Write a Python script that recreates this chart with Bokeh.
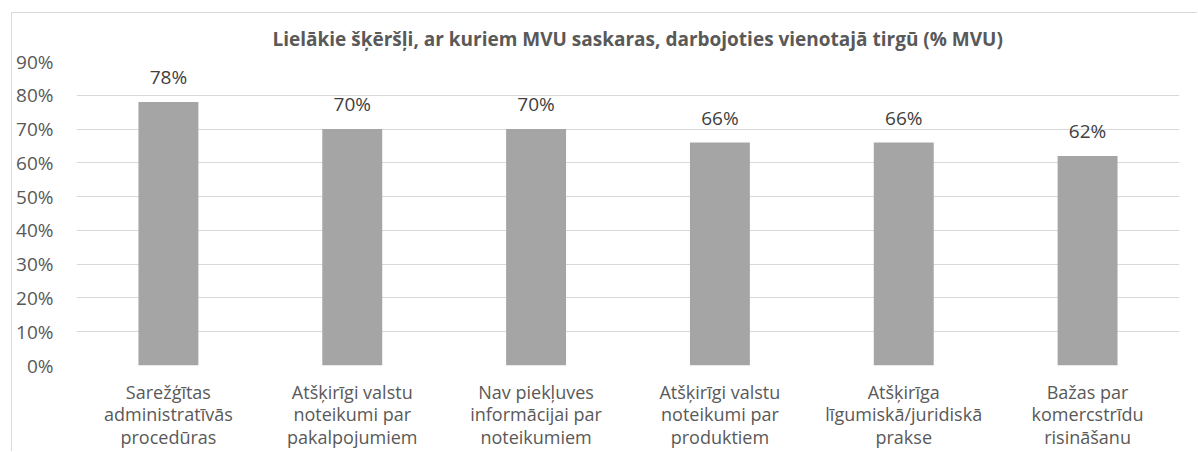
from bokeh.plotting import figure
from bokeh.models import (ColumnDataSource, Range1d, FactorRange, FixedTicker,
                          NumeralTickFormatter, LabelSet, Title)
from bokeh.core.properties import value
from bokeh.embed import file_html
from bokeh.resources import INLINE

title_text = "Lielākie šķēršļi, ar kuriem MVU saskaras, darbojoties vienotajā tirgū (% MVU)"
categories = [
    "Sarežģītas\nadministratīvās\nprocedūras",
    "Atšķirīgi valstu\nnoteikumi par\npakalpojumiem",
    "Nav piekļuves\ninformācijai par\nnoteikumiem",
    "Atšķirīgi valstu\nnoteikumi par\nproduktiem",
    "Atšķirīga\nlīgumiskā/juridiskā\nprakse",
    "Bažas par\nkomercstrīdu\nrisināšanu",
]
values = [0.78, 0.70, 0.70, 0.66, 0.66, 0.62]
value_labels = ["78%", "70%", "70%", "66%", "66%", "62%"]
y_ticks = [0.0, 0.1, 0.2, 0.3, 0.4, 0.5, 0.6, 0.7, 0.8, 0.9]

FONT = "Open Sans"
TXT = "#595959"

p = figure(width=1186, height=439, output_backend="svg", toolbar_location=None,
           x_range=FactorRange(factors=categories, range_padding=0),
           y_range=Range1d(0, 0.9),
           min_border_left=64, min_border_right=19, min_border_top=47, min_border_bottom=85)
p.margin = (12, 0, 0, 11)
p.styles = {"border-top": "1px solid #D9D9D9", "border-left": "1px solid #D9D9D9"}
p.outline_line_color = None
p.background_fill_color = "white"
p.border_fill_color = "white"

p.add_layout(Title(text=title_text, align="left", offset=196, standoff=20,
                   text_font=FONT, text_font_size="19px", text_font_style="bold",
                   text_color=TXT), "above")

src = ColumnDataSource(dict(cat=categories, val=values, lab=value_labels))
p.vbar(x="cat", top="val", width=0.326, source=src, fill_color="#A5A5A5", line_color=None)

p.add_layout(LabelSet(x="cat", y="val", text="lab", source=src, y_offset=25,
                      text_align="center", text_baseline="middle",
                      text_font=value(FONT), text_font_size="19px", text_color="#404040"))

p.xaxis.axis_line_color = None
p.xaxis.major_tick_line_color = None
p.xaxis.minor_tick_line_color = None
p.xaxis.major_tick_out = 0
p.xaxis.major_tick_in = 0
p.xaxis.major_label_standoff = 14
p.xaxis.major_label_text_font = FONT
p.xaxis.major_label_text_font_size = "18px"
p.xaxis.major_label_text_color = TXT
p.xaxis.major_label_text_line_height = 0.95

p.xgrid.grid_line_color = None
p.ygrid.grid_line_color = "#D9D9D9"
p.ygrid.grid_line_width = 1
p.yaxis.ticker = FixedTicker(ticks=y_ticks)
p.yaxis.formatter = NumeralTickFormatter(format="0%")
p.yaxis.axis_line_color = None
p.yaxis.major_tick_line_color = None
p.yaxis.minor_tick_line_color = None
p.yaxis.major_tick_out = 0
p.yaxis.major_tick_in = 0
p.yaxis.major_label_standoff = 23
p.yaxis.major_label_text_font = FONT
p.yaxis.major_label_text_font_size = "19px"
p.yaxis.major_label_text_color = TXT

open("out.html", "w").write(file_html(p, INLINE))
